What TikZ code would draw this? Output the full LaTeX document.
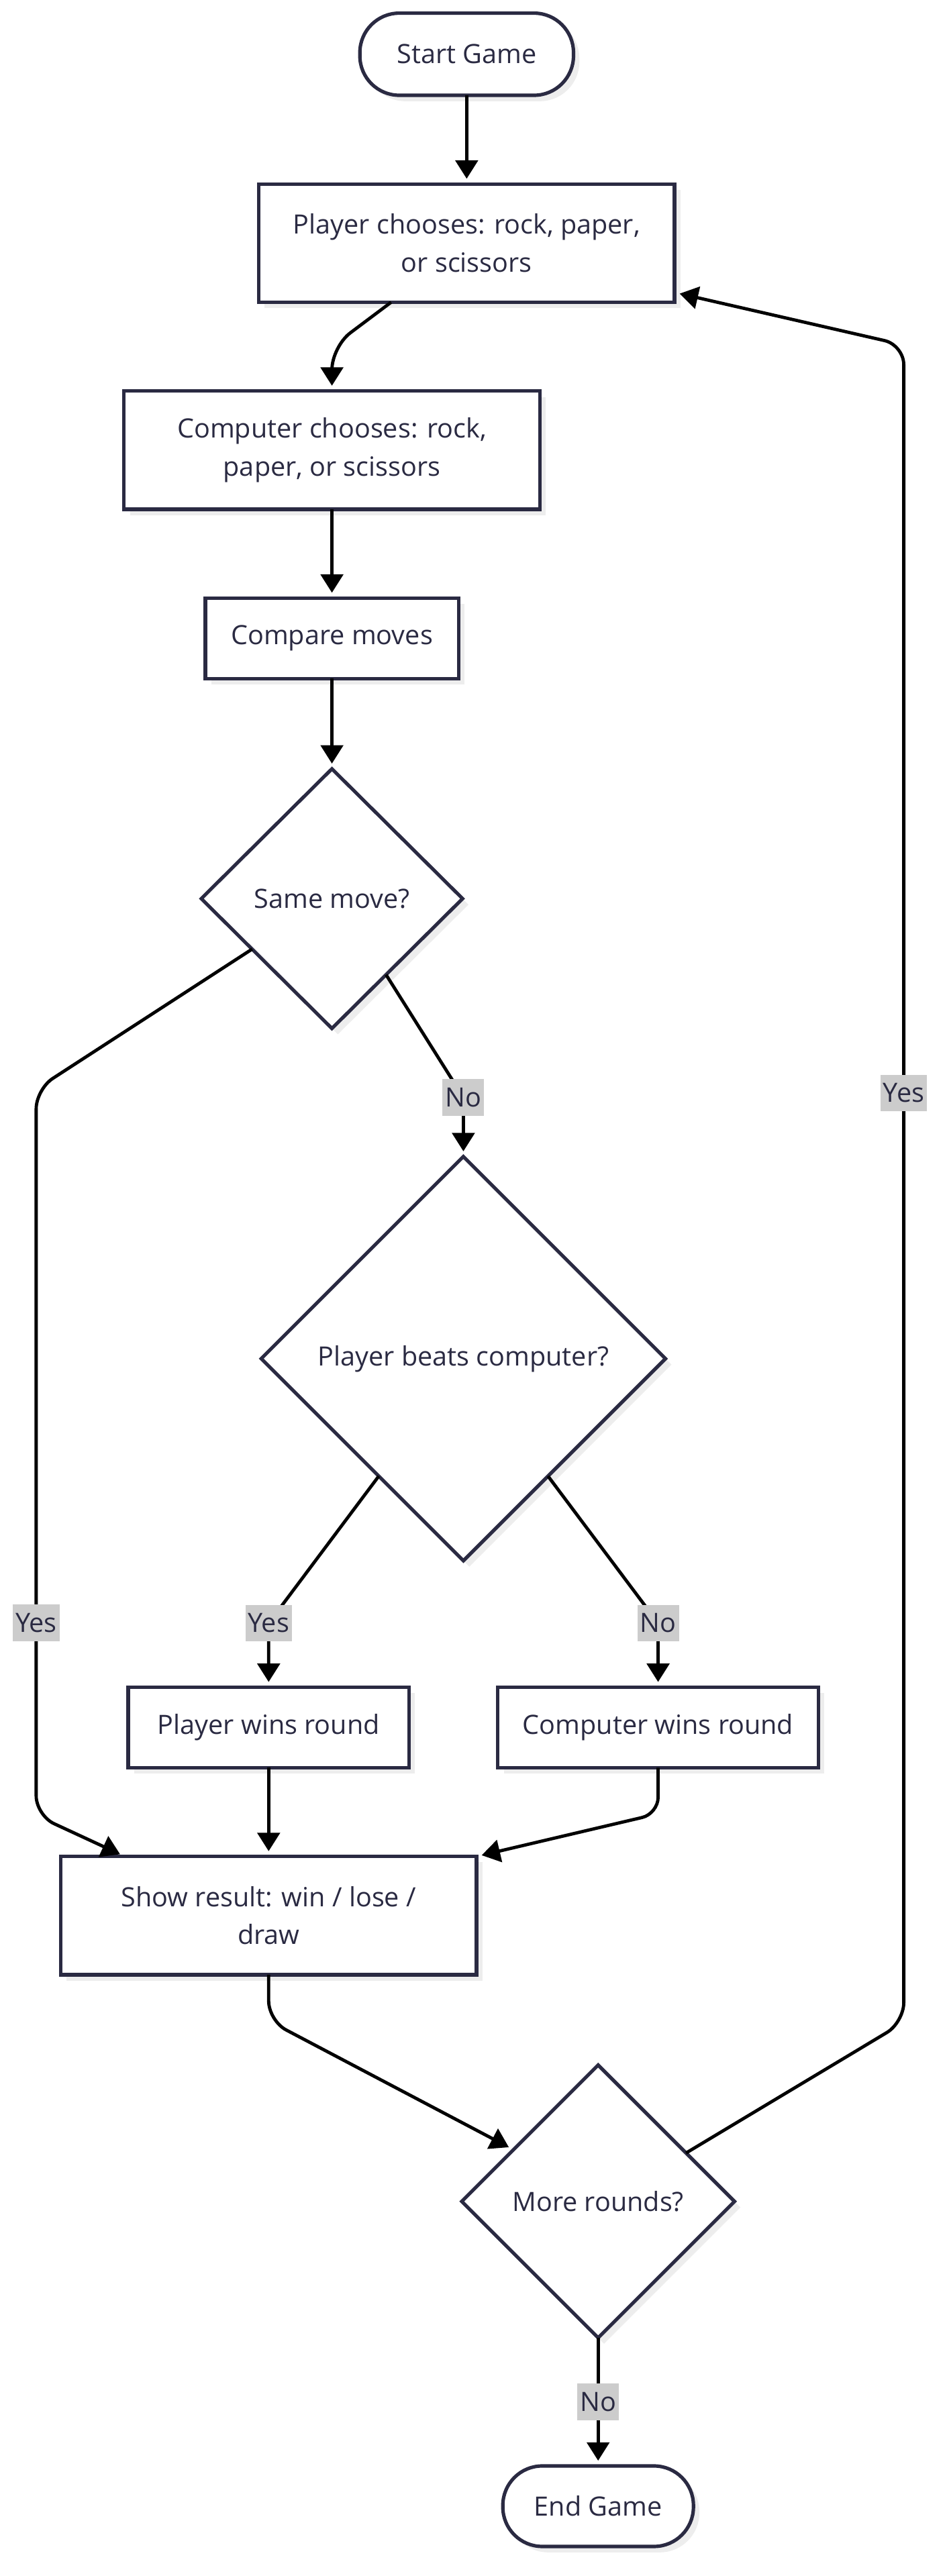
\documentclass[tikz,border=0pt]{standalone}
\usepackage{fontspec}
\setmainfont{Open Sans}
\usetikzlibrary{arrows.meta, positioning, shapes.geometric, shadows}
\definecolor{ink}{HTML}{2A2A42}
\definecolor{lblgray}{HTML}{CCCCCC}

\begin{document}
\begin{tikzpicture}[
    font=\fontsize{11.5}{16.4}\selectfont,
    base/.style={draw=ink, line width=1.5pt, outer sep=0pt, fill=white, text=ink, align=center,
        drop shadow={shadow xshift=0.09cm, shadow yshift=-0.09cm, fill=black!7, opacity=1}},
    terminal/.style={base, rounded corners=0.6cm, minimum height=1.25cm},
    box/.style={base, minimum width=6.325cm, minimum height=1.8cm},
    smallbox/.style={base, minimum height=1.225cm},
    decision/.style={base, diamond, inner sep=0pt},
    arrow/.style={-{Triangle[length=0.28cm, width=0.34cm]}, line width=1.4pt, shorten >=0.08cm},
    lbl/.style={sharp corners, fill=lblgray, text=ink, inner sep=1.2pt, minimum height=0.56cm}
]
\useasboundingbox (0,0) rectangle (14.4,-39.2);

\node[terminal, minimum width=3.25cm] (start) at (7.1,-0.825) {Start Game};
\node[box, below=1.35cm of start] (player) {Player chooses: rock, paper,\\or scissors};
\node[box, below=1.35cm of player, xshift=-2.05cm] (computer) {Computer chooses: rock,\\paper, or scissors};
\node[smallbox, minimum width=3.85cm, below=1.35cm of computer] (compare) {Compare moves};
\node[decision, minimum width=3.975cm, minimum height=3.95cm, below=1.375cm of compare] (same) {Same move?};
\node[decision, minimum width=6.15cm, minimum height=6.15cm, below=1.95cm of same, xshift=2cm] (beats) {Player beats computer?};
\node[smallbox, minimum width=4.275cm, below=1.925cm of beats, xshift=-2.9625cm] (pwins) {Player wins round};
\node[smallbox, minimum width=4.875cm, below=1.925cm of beats, xshift=2.9625cm] (cwins) {Computer wins round};
\node[box, below=1.35cm of pwins] (show) {Show result: win / lose /\\draw};
\node[decision, minimum width=4.15cm, minimum height=4.15cm, below=1.375cm of show, xshift=5.0125cm] (more) {More rounds?};
\node[terminal, minimum width=2.9cm, minimum height=1.225cm, below=1.95cm of more] (finish) {End Game};

\draw[arrow] (start) -- (player);
\draw[arrow, rounded corners=0.35cm] ([xshift=-1.15cm]player.south) -- ([yshift=0.675cm]computer.north) -- (computer.north);
\draw[arrow] (computer) -- (compare);
\draw[arrow] (compare) -- (same);
\draw[arrow, rounded corners=0.3cm] ([xshift=-0.22cm, yshift=0.22cm]same.south west) -- (0.55,-16.575)
    -- node[lbl, pos=0.735] {Yes} (0.55,-27.625) -- ([xshift=0.975cm]show.north west);
\draw[arrow, rounded corners=0.25cm] ([xshift=-0.17cm, yshift=-0.17cm]same.south east) -- (7.05,-16.7) node[lbl] {No} -- (beats.north);
\draw[arrow, rounded corners=0.25cm] ([xshift=0.25cm, yshift=-0.25cm]beats.south west) -- (4.0875,-24.7) node[lbl] {Yes} -- (pwins.north);
\draw[arrow, rounded corners=0.25cm] ([xshift=-0.25cm, yshift=-0.25cm]beats.south east) -- (10.0125,-24.7) node[lbl] {No} -- (cwins.north);
\draw[arrow] (pwins) -- (show);
\draw[arrow, rounded corners=0.25cm] (cwins.south) -- (10.0125,-27.6) -- (show.north east);
\draw[arrow, rounded corners=0.3cm] (show.south) -- (4.0875,-30.75) -- ([xshift=-0.25cm, yshift=-0.25cm]more.north west);
\draw[arrow, rounded corners=0.3cm] ([xshift=0.3cm, yshift=-0.3cm]more.north east) -- (13.75,-30.775)
    -- node[lbl, pos=0.554] {Yes} (13.75,-5.25) -- ([yshift=0.15cm]player.south east);
\draw[arrow] (more) -- node[lbl] {No} (finish);
\end{tikzpicture}
\end{document}
